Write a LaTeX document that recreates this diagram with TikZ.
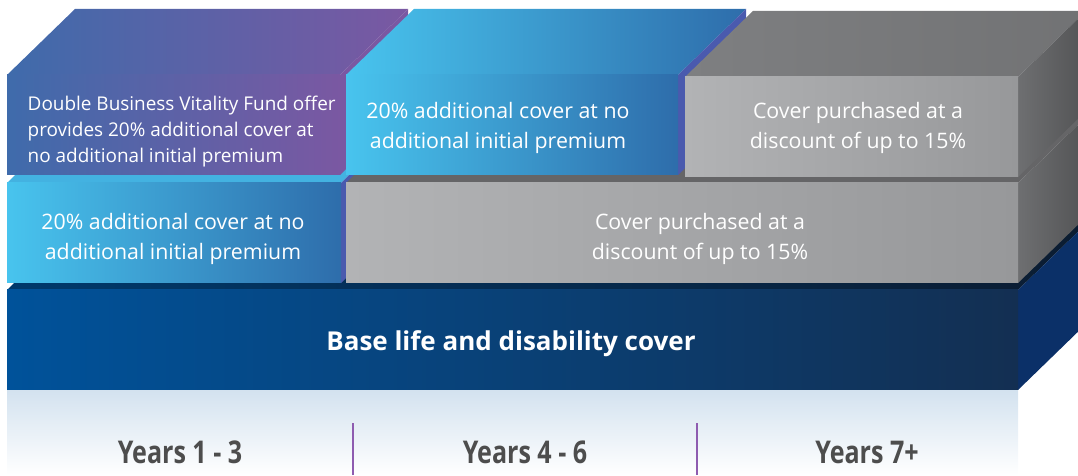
\documentclass[tikz,border=0pt]{standalone}
\usepackage{fontspec}
\setmainfont{Open Sans}
\newfontfamily\yearsfont[FakeStretch=0.8]{Open Sans}

\definecolor{purpleL}{HTML}{3F6BAB}
\definecolor{purpleR}{HTML}{7A58A2}
\definecolor{cyanL}{HTML}{48C4EE}
\definecolor{cyanR}{HTML}{2E6DAB}
\definecolor{edgeblue}{HTML}{4A5AAE}
\definecolor{greyL}{HTML}{B2B3B5}
\definecolor{greyR}{HTML}{97989A}
\definecolor{greyTop}{HTML}{7E7F81}
\definecolor{greySide}{HTML}{6E6F71}
\definecolor{baseL}{HTML}{00529A}
\definecolor{baseR}{HTML}{132F52}
\definecolor{baseSide}{HTML}{0B3068}
\definecolor{floorblue}{HTML}{D3E2EF}
\definecolor{yearsgrey}{HTML}{4D4D4D}
\definecolor{divider}{HTML}{8E5CB0}

\begin{document}
\begin{tikzpicture}[x=0.75pt,y=0.75pt,
  blocktext/.style={text=white,align=center,font=\fontsize{16}{22.5}\selectfont},
  yearlabel/.style={text=yearsgrey,font=\yearsfont\bfseries\fontsize{23.5}{26}\selectfont}]
\pgfmathsetmacro{\dx}{68}
\pgfmathsetmacro{\dy}{66}
\pgfmathsetmacro{\h}{100}

\useasboundingbox (0,0) rectangle (1078,475);
\clip (0,0) rectangle (1078,475);

% floor
\shade[top color=floorblue,bottom color=white] (7,0) rectangle (1018,85);

% base slab
\shade[left color=baseL!70!black,right color=baseR!60!black] (7,185) -- ++(\dx,\dy) -- ++(1011,0) -- (1018,185) -- cycle;
\fill[baseSide] (1018,85) -- ++(\dx,\dy) -- ++(0,\h) -- (1018,185) -- cycle;
\shade[left color=baseL,right color=baseR] (7,85) rectangle (1018,185);

% middle row
\fill[cyanL!80!cyanR] (7,292) -- ++(\dx,\dy) -- ++(334,0) -- (341,292) -- cycle;
\fill[edgeblue] (341,192) -- ++(\dx,\dy) -- ++(0,\h) -- (341,292) -- cycle;
\shade[left color=cyanL,right color=cyanR] (7,192) rectangle (341,292);
\fill[greyTop!80!black] (346,292) -- ++(\dx,\dy) -- ++(672,0) -- (1018,292) -- cycle;
\shade[left color=greySide,right color=greySide!75!black] (1018,192) -- ++(\dx,\dy) -- ++(0,\h) -- (1018,292) -- cycle;
\shade[left color=greyL,right color=greyR] (346,192) rectangle (1018,292);

% top row
\shade[left color=purpleL,right color=purpleR] (7,400) -- ++(\dx,\dy) -- ++(333,0) -- (340,400) -- cycle;
\fill[purpleR] (340,300) -- ++(\dx,\dy) -- ++(0,\h) -- (340,400) -- cycle;
\shade[left color=purpleL,right color=purpleR] (7,300) rectangle (340,400);

\shade[left color=cyanL,right color=cyanR] (346,400) -- ++(\dx,\dy) -- ++(332,0) -- (678,400) -- cycle;
\fill[edgeblue] (678,300) -- ++(\dx,\dy) -- ++(0,\h) -- (678,400) -- cycle;
\shade[left color=cyanL,right color=cyanR] (346,300) rectangle (678,400);

\shade[left color=greyTop,right color=greyTop!90!black] (685,398) -- ++(\dx,\dy) -- ++(333,0) -- (1018,398) -- cycle;
\shade[left color=greySide,right color=greySide!75!black] (1018,298) -- ++(\dx,\dy) -- ++(0,\h) -- (1018,398) -- cycle;
\shade[left color=greyL,right color=greyR] (685,298) rectangle (1018,398);

% texts
\node[blocktext,align=left,anchor=west,font=\fontsize{14.2}{19.5}\selectfont] (fund) at (23,343)
  {Double Business Vitality Fund offer\\provides 20\% additional cover at\\no additional initial premium};
\node[blocktext] (extra46) at (498,347) {20\% additional cover at no\\additional initial premium};
\node[blocktext] (disc7) at (858,347) {Cover purchased at a\\discount of up to 15\%};
\node[blocktext] (extra13) at (173,236) {20\% additional cover at no\\additional initial premium};
\node[blocktext] (disc4) at (700,236) {Cover purchased at a\\discount of up to 15\%};
\node[text=white,font=\bfseries\fontsize{19.5}{22}\selectfont] (base) at (511,131) {Base life and disability cover};

% years
\node[yearlabel] (y1) at (180,23) {Years 1 - 3};
\node[yearlabel] (y4) at (525,23) {Years 4 - 6};
\node[yearlabel] (y7) at (867,23) {Years 7+};
\draw[divider,line width=1.5pt] (353,0) -- (353,52);
\draw[divider,line width=1.5pt] (697,0) -- (697,52);
\end{tikzpicture}
\end{document}
